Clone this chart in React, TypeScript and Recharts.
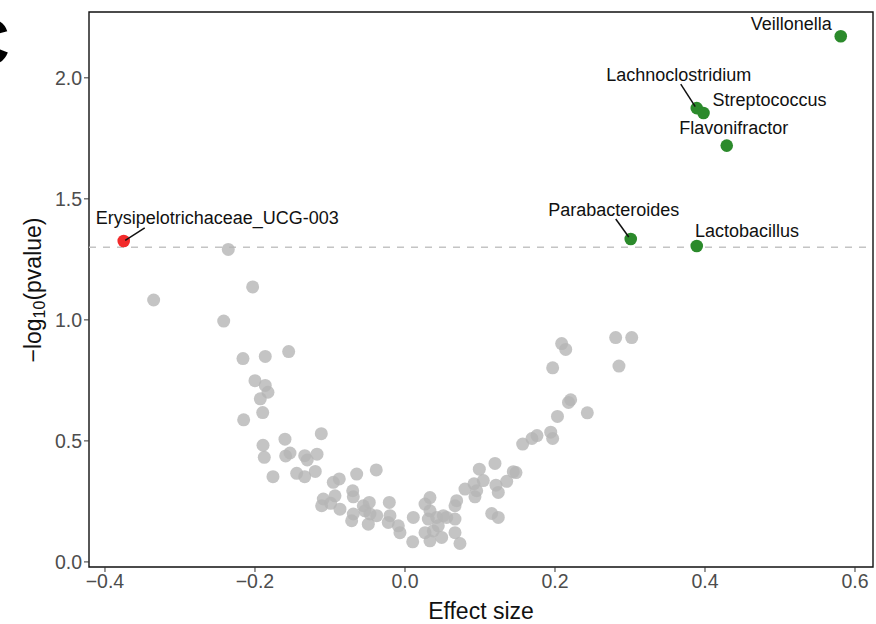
import React from "react";
import {
  ScatterChart,
  Scatter,
  XAxis,
  YAxis,
  ReferenceLine,
  ReferenceArea,
} from "recharts";

// non-significant genera (grey)
const nsEffect = [
  -0.2356, -0.2031, -0.3351, -0.2417, -0.216, -0.1863, -0.1551, -0.2, -0.1863, -0.1827,
  -0.1929, -0.1897, -0.2151, -0.16, -0.1116, -0.1893, -0.1876, -0.1591, -0.1533, -0.1337,
  -0.1303, -0.1173, -0.1444, -0.1337, -0.1196, -0.176, -0.0644, -0.0383, -0.0956, -0.0876,
  -0.1089, -0.0933, -0.1111, -0.0991, -0.0867, -0.0697, -0.0689, -0.0689, -0.0711, -0.0556,
  -0.0476, -0.0533, -0.0467, -0.0377, -0.0489, -0.0209, -0.02, -0.0223, -0.0089, -0.0067,
  0.0111, 0.0103, 0.0333, 0.0267, 0.0333, 0.0311, 0.0423, 0.0511, 0.0444, 0.0377,
  0.0267, 0.0489, 0.0333, 0.0667, 0.0667, 0.0733, 0.0689, 0.0667, 0.0556, 0.08,
  0.092, 0.1044, 0.0956, 0.0933, 0.0991, 0.12, 0.1213, 0.1244, 0.1356, 0.1156,
  0.1244, 0.1444, 0.148, 0.1569, 0.1693, 0.176, 0.1943, 0.1969, 0.2033, 0.2209,
  0.2431, 0.1969, 0.2089, 0.2143, 0.2809, 0.3023, 0.2853, 0.218,
];
const nsLogP = [
  1.291, 1.136, 1.082, 0.995, 0.84, 0.849, 0.869, 0.749, 0.729, 0.701,
  0.674, 0.617, 0.587, 0.507, 0.53, 0.482, 0.432, 0.438, 0.45, 0.439,
  0.421, 0.445, 0.366, 0.352, 0.374, 0.352, 0.363, 0.38, 0.329, 0.343,
  0.26, 0.273, 0.232, 0.242, 0.218, 0.294, 0.269, 0.198, 0.17, 0.232,
  0.246, 0.211, 0.198, 0.191, 0.156, 0.246, 0.191, 0.163, 0.149, 0.121,
  0.184, 0.083, 0.266, 0.239, 0.211, 0.177, 0.184, 0.191, 0.149, 0.128,
  0.121, 0.101, 0.087, 0.177, 0.121, 0.076, 0.253, 0.232, 0.184, 0.301,
  0.323, 0.336, 0.294, 0.269, 0.383, 0.407, 0.317, 0.287, 0.333, 0.2,
  0.184, 0.373, 0.369, 0.487, 0.51, 0.522, 0.536, 0.51, 0.601, 0.67,
  0.616, 0.802, 0.902, 0.878, 0.927, 0.927, 0.809, 0.659,
];

// enriched genera (green)
const upGenera = [
  "Veillonella",
  "Lachnoclostridium",
  "Streptococcus",
  "Flavonifractor",
  "Parabacteroides",
  "Lactobacillus",
];
const upEffect = [0.581, 0.389, 0.398, 0.429, 0.301, 0.389];
const upLogP = [2.172, 1.875, 1.855, 1.72, 1.334, 1.305];

// depleted genera (red)
const downGenera = ["Erysipelotrichaceae_UCG-003"];
const downEffect = [-0.375];
const downLogP = [1.326];

const xTicks = [-0.4, -0.2, 0, 0.2, 0.4, 0.6];
const yTicks = [0, 0.5, 1, 1.5, 2];
const xDomain = [-0.4213, 0.624];
const yDomain = [-0.021, 2.272];
const pCutoff = 1.3;

// label offsets in px from the point (ggrepel-like placement)
const labelPlacement: Record<
  string,
  { dx: number; dy: number; anchor: "start" | "middle" | "end"; lead?: number[] }
> = {
  Veillonella: { dx: -9, dy: -12, anchor: "end" },
  Lachnoclostridium: { dx: -18, dy: -33, anchor: "middle", lead: [-16, -24, -1.5, -1.5] },
  Streptococcus: { dx: 9, dy: -12.6, anchor: "start" },
  Flavonifractor: { dx: 7, dy: -18, anchor: "middle" },
  Parabacteroides: { dx: -17, dy: -29, anchor: "middle", lead: [-15, -20, -2, -2] },
  Lactobacillus: { dx: -1.7, dy: -15, anchor: "start" },
  "Erysipelotrichaceae_UCG-003": { dx: -28, dy: -23, anchor: "start", lead: [21, -13, 1.5, -0.5] },
};

const FONT = '"Liberation Sans", Arial, Helvetica, sans-serif';

const nsData = nsEffect.map((x, i) => ({ x, y: nsLogP[i] }));
const upData = upGenera.map((name, i) => ({ name, x: upEffect[i], y: upLogP[i] }));
const downData = downGenera.map((name, i) => ({ name, x: downEffect[i], y: downLogP[i] }));

const fmt = (v: number) => {
  const s = v.toFixed(1);
  return v < 0 ? "\u2212" + s.slice(1) : s;
};

function GreyDot(props: any) {
  return <circle cx={props.cx} cy={props.cy} r={6.5} fill="#b5b5b5" fillOpacity={0.8} />;
}

function makeLabeledDot(color: string) {
  return (props: any) => {
    const { cx, cy, payload } = props;
    const p = labelPlacement[payload.name];
    return (
      <g>
        <circle cx={cx} cy={cy} r={6.3} fill={color} />
        {p && p.lead && (
          <line
            x1={cx + p.lead[0]}
            y1={cy + p.lead[1]}
            x2={cx + p.lead[2]}
            y2={cy + p.lead[3]}
            stroke="#111"
            strokeWidth={1.5}
          />
        )}
        {p && (
          <text
            x={cx + p.dx}
            y={cy + p.dy}
            textAnchor={p.anchor}
            dominantBaseline="central"
            fontSize={18}
            fontFamily={FONT}
            fill="#111"
          >
            {payload.name}
          </text>
        )}
      </g>
    );
  };
}

function YTitle() {
  return (
    <text
      transform="translate(33, 290) rotate(-90)"
      textAnchor="middle"
      dominantBaseline="central"
      fontFamily={FONT}
      fontSize={23}
      fill="#111"
    >
      {"\u2212log"}
      <tspan fontSize={16} dy={6}>10</tspan>
      <tspan dy={-6}>(pvalue)</tspan>
    </text>
  );
}

export default function App() {
  return (
    <div style={{ position: "absolute", left: 0, top: 0, width: 876, height: 624 }}>
      <svg width={876} height={624} style={{ position: "absolute", left: 0, top: 0 }}>
        <text x={-38} y={65} fontSize={66} fontWeight="bold" fontFamily={FONT} fill="#000">
          C
        </text>
      </svg>
      <ScatterChart
        width={876}
        height={624}
        margin={{ top: 12, right: 3, left: 0, bottom: 0 }}
        style={{ fontFamily: FONT }}
      >
        <XAxis
          type="number"
          dataKey="x"
          domain={xDomain}
          ticks={xTicks}
          allowDataOverflow
          height={57}
          tickFormatter={fmt}
          tickSize={5}
          axisLine={false}
          tickLine={{ stroke: "#333" }}
          tick={{ fill: "#4d4d4d", fontSize: 19.5 }}
          label={{ value: "Effect size", position: "insideBottom", offset: 5, fontSize: 23, fill: "#111" }}
        />
        <YAxis
          type="number"
          dataKey="y"
          domain={yDomain}
          ticks={yTicks}
          allowDataOverflow
          width={89}
          tickFormatter={fmt}
          tickSize={5}
          axisLine={false}
          tickLine={{ stroke: "#333" }}
          tick={{ fill: "#4d4d4d", fontSize: 19.5 }}
          label={<YTitle />}
        />
        <ReferenceArea
          x1={xDomain[0]}
          x2={xDomain[1]}
          y1={yDomain[0]}
          y2={yDomain[1]}
          fill="none"
          stroke="#111"
          strokeWidth={1.4}
          ifOverflow="visible"
        />
        <Scatter data={nsData} shape={GreyDot} isAnimationActive={false} />
        <Scatter data={downData} shape={makeLabeledDot("#f22a2a")} isAnimationActive={false} />
        <Scatter data={upData} shape={makeLabeledDot("#2b8a2b")} isAnimationActive={false} />
        <ReferenceLine y={pCutoff} stroke="#c4c4c4" strokeWidth={1.6} strokeDasharray="7 7" />
      </ScatterChart>
    </div>
  );
}
